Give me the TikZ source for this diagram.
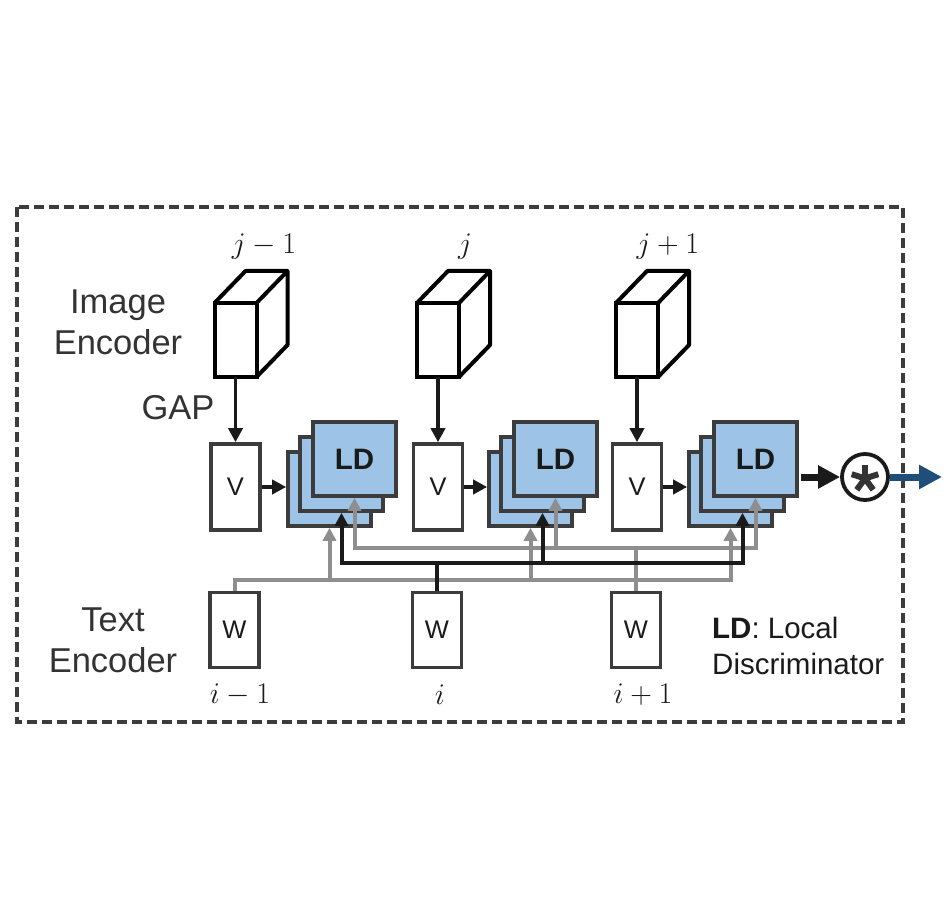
\documentclass[tikz,border=0pt]{standalone}
\usepackage[no-math]{fontspec}
\usepackage{fix-cm}
\newfontfamily\helvfont{Liberation Sans}
\usetikzlibrary{arrows.meta,calc}

\definecolor{ldblue}{HTML}{9DC3E6}
\definecolor{boxgray}{HTML}{3C3C3C}
\definecolor{wiregray}{HTML}{8E8E8E}
\definecolor{wireblack}{HTML}{1A1A1A}
\definecolor{outblue}{HTML}{1F4E79}
\definecolor{txtgray}{HTML}{333333}

\tikzset{
  labeltext/.style={font=\helvfont\fontsize{34.5}{41}\selectfont, text=txtgray, align=center, inner sep=0pt},
  legendtext/.style={font=\helvfont\fontsize{29.5}{36}\selectfont, text=wireblack, align=left, inner sep=0pt},
  idxtext/.style={font=\fontsize{30}{36}\selectfont, text=wireblack, inner sep=0pt},
  cubeface/.style={draw=black, line width=4pt, fill=white, minimum width=42pt, minimum height=74pt, inner sep=0pt, outer sep=0pt},
  vecbox/.style={draw=boxgray, line width=3.6pt, fill=white, minimum width=49pt, inner sep=0pt, font=\helvfont\fontsize{25.5}{28}\selectfont, text=wireblack},
  ldlayer/.style={draw=boxgray, line width=3.6pt, fill=ldblue, minimum width=83pt, minimum height=74pt, inner sep=0pt, font=\helvfont\bfseries\fontsize{29.5}{34}\selectfont, text=wireblack},
  darrow/.style={draw=wireblack, line width=3.5pt, >={Triangle[length=14pt,width=14pt]}, ->},
  blackwire/.style={draw=wireblack, line width=4pt, >={Triangle[length=13pt,width=13pt]}},
  graywire/.style={draw=wiregray, line width=4pt, >={Triangle[length=13pt,width=13pt]}}
}

\begin{document}
\begin{tikzpicture}[x=1pt,y=-1pt]
  \useasboundingbox (0,0) rectangle (951,920);
  % Cadre
  \draw[draw=boxgray, line width=3.2pt, dash pattern=on 10pt off 5pt] (17,207) rectangle (903,722);
  % Textes
  \node[labeltext] (imgenc) at (118,322) {Image\\Encoder};
  \node[labeltext] (gap) at (178,408) {GAP};
  \node[labeltext] (txtenc) at (113,640) {Text\\Encoder};
  \node[legendtext, anchor=west] (legend) at (712,646) {\textbf{LD}: Local\\Discriminator};
  % Indices
  \node[idxtext] (jm) at (264,247) {$j-1$};
  \node[idxtext] (jc) at (465,247) {$j$};
  \node[idxtext] (jp) at (668,247) {$j+1$};
  \node[idxtext] (im) at (240,695) {$i-1$};
  \node[idxtext] (ic) at (440,695) {$i$};
  \node[idxtext] (ip) at (643,695) {$i+1$};
  % Cubes, V et W
  \foreach \k/\x in {1/235.5,2/438,3/637}{
    \node[cubeface] (cube\k) at (\x,340) {};
    \draw[black, line width=4pt, line join=round] (cube\k.north west) -- ++(31,-32) -- ++(42,0) -- ++(0,74) -- (cube\k.south east)
      (cube\k.north east) -- ++(31,-32);
    \node[vecbox, minimum height=86pt] (v\k) at (\x,487) {V};
    \node[vecbox, minimum height=75pt] (w\k) at (\x-1,630) {W};
    \draw[darrow] (cube\k.south) -- (v\k.north);
  }
  % Piles LD
  \foreach \k/\bx in {1/288,2/489,3/689}{
    \node[ldlayer] (back\k) at (\bx+41.5,489) {};
    \node[ldlayer] (mid\k) at (\bx+53.5,474) {};
    \node[ldlayer] (front\k) at (\bx+66.5,459) {LD};
    \draw[darrow] (v\k.east) -- (back\k.west |- v\k.east);
  }
  % Niveaux des fils
  \coordinate (lvA) at (0,580);
  \coordinate (lvB) at (0,563);
  \coordinate (lvC) at (0,548);
  % Fils gris (i-1 et i+1)
  \draw[graywire,->] (w1.north) |- (lvA -| back3.south) -- (back3.south);
  \draw[graywire,->] (lvA -| back1.south) -- (back1.south);
  \draw[graywire,->] (lvA -| back2.south) -- (back2.south);
  \draw[graywire] (w3.north) -- (w3.north |- lvC);
  \draw[graywire,<->] (front1.south) |- (lvC -| front3.south) -- (front3.south);
  \draw[graywire,->] (lvC -| front2.south) -- (front2.south);
  % Fil noir (i)
  \draw[blackwire] (w2.north) -- (w2.north |- lvB);
  \draw[blackwire,<->] (mid1.south) |- (lvB -| mid3.south) -- (mid3.south);
  \draw[blackwire,->] (lvB -| mid2.south) -- (mid2.south);
  % Produit et sortie
  \node[circle, draw=wireblack, line width=3.8pt, minimum size=46pt, inner sep=0pt] (circ) at (865,477) {};
  \foreach \a in {-90,-18,54,126,198}
    \draw[txtgray, line width=6pt] ($(circ.center)+(0,1.5)$) -- ++(\a:14);
  \draw[wireblack, line width=7pt, -{Triangle[length=22pt,width=22pt]}, shorten <=2pt] (front3.east |- circ.west) -- (circ.west);
  \coordinate (outend) at (942,477);
  \draw[outblue, line width=7pt, -{Triangle[length=23pt,width=23pt]}] (circ.east) -- (outend);
\end{tikzpicture}
\end{document}
